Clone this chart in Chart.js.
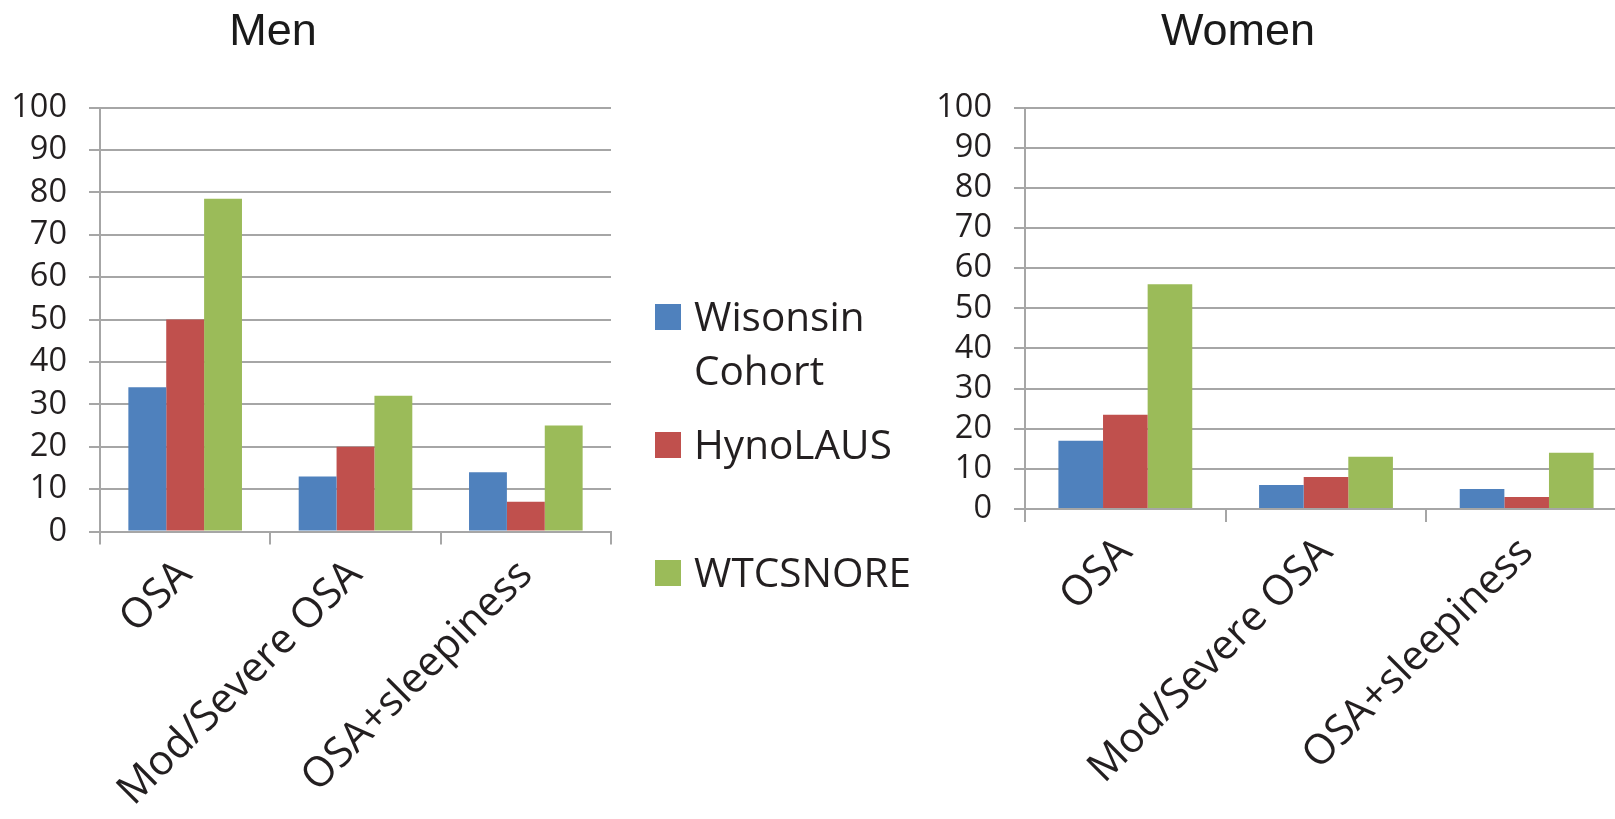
<!DOCTYPE html>
<html>
<head>
<meta charset="utf-8">
<script src="https://cdn.jsdelivr.net/npm/chart.js@4.4.0/dist/chart.umd.min.js"></script>
<style>
    html, body { margin: 0; padding: 0; background: #fff; overflow: hidden; }
    #pagina { position: relative; width: 1615px; height: 819px; overflow: hidden; }
    canvas { position: absolute; top: 0; }
    #chartMen { left: 0; }
    #chartWomen { left: 900px; }
    .titulo {
        position: absolute; top: 8px;
        font-family: "Liberation Sans", Arial, sans-serif;
        font-size: 45px; line-height: 44px; color: #1a1a1a;
        transform: translateX(-50%); white-space: nowrap;
    }
    .legenda-item { position: absolute; left: 655px; }
    .legenda-caixa { position: absolute; left: 0; top: 0; width: 26px; height: 26px; }
    .legenda-texto {
        position: absolute; left: 39px; top: -15px; width: 240px;
        font-family: "Open Sans", sans-serif; font-size: 40.5px; line-height: 54px;
        color: #231f20;
    }
</style>
</head>
<body>
<div id="pagina">
    <canvas id="chartMen" width="640" height="819"></canvas>
    <canvas id="chartWomen" width="760" height="819"></canvas>
    <div class="titulo" style="left:273px">Men</div>
    <div class="titulo" style="left:1238px">Women</div>
    <div id="legenda"></div>
</div>

<script>
/* ===============================
   DADOS
================================= */
const categorias = ['OSA', 'Mod/Severe OSA', 'OSA+sleepiness'];
const nomesSeries = ['Wisonsin Cohort', 'HynoLAUS', 'WTCSNORE'];

const menWisconsin = [34, 13, 14];
const menHyno      = [50, 20, 7];
const menWtc       = [78.5, 32, 25];

const womenWisconsin = [17, 6, 5];
const womenHyno      = [23.5, 8, 3];
const womenWtc       = [56, 13, 14];

const eixoY = { min: 0, max: 100, passo: 10 };

/* ===============================
   ESTILO
================================= */
const cores = ['#4f81bd', '#c0504d', '#9bbb59'];
const cinzaGrade = '#a6a6a6';
const corTexto = '#231f20';

/* ===============================
   GRAFICOS
================================= */
function criarGrafico(id, valores, caixa) {
    return new Chart(document.getElementById(id), {
        type: 'bar',
        data: {
            labels: categorias,
            datasets: valores.map((v, i) => ({
                label: nomesSeries[i],
                data: v,
                backgroundColor: cores[i],
                borderWidth: 0,
                categoryPercentage: 0.667,
                barPercentage: 1.0
            }))
        },
        options: {
            responsive: false,
            animation: false,
            layout: { padding: { top: caixa.top, right: caixa.right, left: 0, bottom: 0 } },
            plugins: { legend: { display: false }, title: { display: false }, tooltip: { enabled: false } },
            scales: {
                x: {
                    afterFit: s => { s.height = caixa.alturaX; },
                    grid: { drawOnChartArea: false, drawTicks: true, tickLength: 13, color: cinzaGrade, lineWidth: 2, offset: true },
                    border: { display: true, color: cinzaGrade, width: 2 },
                    ticks: {
                        autoSkip: false, minRotation: 45, maxRotation: 45, padding: 6,
                        color: corTexto, font: { family: 'Open Sans', size: 41.5 }
                    }
                },
                y: {
                    min: eixoY.min, max: eixoY.max,
                    afterFit: s => { s.width = caixa.larguraY; },
                    grid: { color: cinzaGrade, lineWidth: 2, tickLength: 11 },
                    border: { display: true, color: cinzaGrade, width: 2 },
                    ticks: {
                        stepSize: eixoY.passo, padding: 22, autoSkip: false,
                        color: corTexto, font: { family: 'Open Sans', size: 32.5 }
                    }
                }
            }
        }
    });
}

criarGrafico('chartMen', [menWisconsin, menHyno, menWtc],
    { top: 107.5, right: 29, larguraY: 100, alturaX: 287.5 });

criarGrafico('chartWomen', [womenWisconsin, womenHyno, womenWtc],
    { top: 107.5, right: 33, larguraY: 125, alturaX: 310 });

/* ===============================
   LEGENDA
================================= */
const topoLegenda = [304, 432, 560];
const legenda = document.getElementById('legenda');
nomesSeries.forEach((nome, i) => {
    legenda.insertAdjacentHTML('beforeend', `
        <div class="legenda-item" style="top:${topoLegenda[i]}px">
            <div class="legenda-caixa" style="background:${cores[i]}"></div>
            <div class="legenda-texto">${nome}</div>
        </div>`);
});
</script>
</body>
</html>
